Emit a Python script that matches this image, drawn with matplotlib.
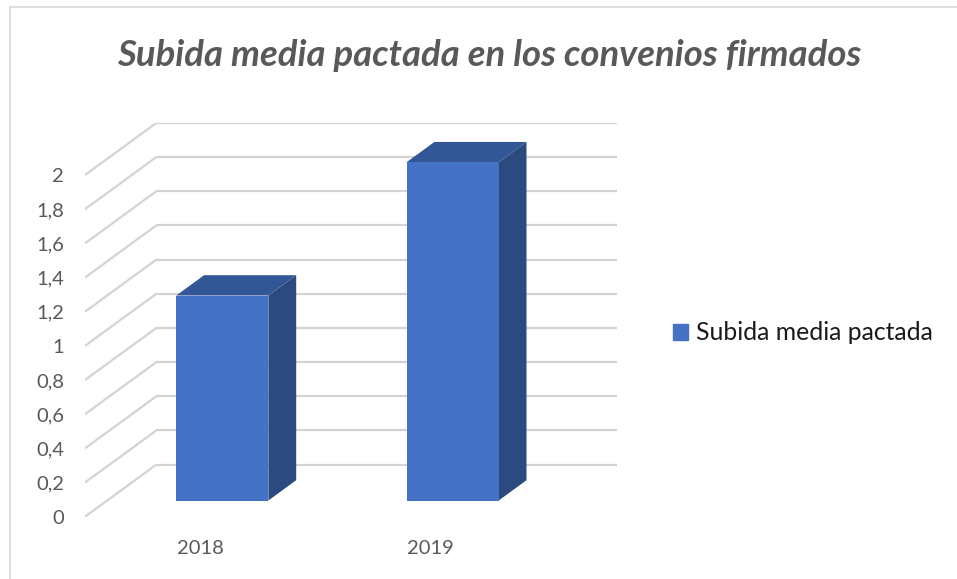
import matplotlib.pyplot as plt
from matplotlib.patches import Polygon, Patch
from matplotlib.lines import Line2D
import numpy as np

plt.rcParams['font.family'] = ['Lato', 'DejaVu Sans']

# data
years = ["2018", "2019"]
subida = [1.2, 1.98]
ticks = [0, 0.2, 0.4, 0.6, 0.8, 1, 1.2, 1.4, 1.6, 1.8, 2]
tick_labels = ["0", "0,2", "0,4", "0,6", "0,8", "1", "1,2", "1,4", "1,6", "1,8", "2"]

# oblique 3d look: depth offset in data units
DX, DY = 0.31, 0.305
d0, d1 = 0.31, 0.70   # bar depth range (fraction of floor depth)
w = 0.4               # bar width in category units

front = '#4472C4'
top = '#325796'
side = '#2A4A80'
grid = '#D3D3D3'

fig = plt.figure(figsize=(9.57, 5.79), dpi=100)
W, H = 957, 579

ax = fig.add_axes([85 / W, (H - 516.7) / H, 532 / W, 393.8 / H])
ax.set_xlim(0, len(years) + DX)
ax.set_ylim(0, max(ticks) + DY)
for s in ax.spines.values():
    s.set_visible(False)

# walls gridlines
for v in ticks:
    ax.plot([0, DX], [v, v + DY], color=grid, lw=1.6, solid_capstyle='butt', zorder=1)
    ax.plot([DX, len(years) + DX], [v + DY, v + DY], color=grid, lw=1.6,
            solid_capstyle='butt', zorder=1)

# bars
for i, h in enumerate(subida):
    xl = i + 0.5 - w / 2
    xr = i + 0.5 + w / 2
    a0x, a0y = d0 * DX, d0 * DY
    a1x, a1y = d1 * DX, d1 * DY
    ax.add_patch(Polygon([(xr + a0x, a0y), (xr + a1x, a1y), (xr + a1x, h + a1y),
                          (xr + a0x, h + a0y)], closed=True, fc=side, ec='none', zorder=3))
    ax.add_patch(Polygon([(xl + a0x, h + a0y), (xr + a0x, h + a0y), (xr + a1x, h + a1y),
                          (xl + a1x, h + a1y)], closed=True, fc=top, ec='none', zorder=3))
    ax.add_patch(Polygon([(xl + a0x, a0y), (xr + a0x, a0y), (xr + a0x, h + a0y),
                          (xl + a0x, h + a0y)], closed=True, fc=front, ec='none', zorder=4))

ax.set_yticks(ticks)
ax.set_yticklabels(tick_labels)
ax.set_xticks(np.arange(len(years)) + 0.5)
ax.set_xticklabels(years)
ax.tick_params(length=0, labelsize=14.5, colors='#595959')
ax.tick_params(axis='y', pad=15)
ax.tick_params(axis='x', pad=17)

fig.text(489 / W, 1 - 56 / H, "Subida media pactada en los convenios firmados",
         ha='center', va='center', fontsize=26.3, fontweight='bold', fontstyle='italic',
         color='#595959')

fig.legend(handles=[Patch(color=front, label="Subida media pactada")],
           loc='center left', bbox_to_anchor=(651 / W, 1 - 333 / H), frameon=False,
           fontsize=17.8, handlelength=0.6, handleheight=0.6, handletextpad=0.3,
           labelcolor='#1A1A1A')

# chart area border (top and left visible)
fig.add_artist(Line2D([10 / W, 1], [1 - 7 / H, 1 - 7 / H], color='#D9D9D9', lw=1.2))
fig.add_artist(Line2D([10 / W, 10 / W], [0, 1 - 7 / H], color='#D9D9D9', lw=1.2))

fig.savefig("out.png", dpi=100)
